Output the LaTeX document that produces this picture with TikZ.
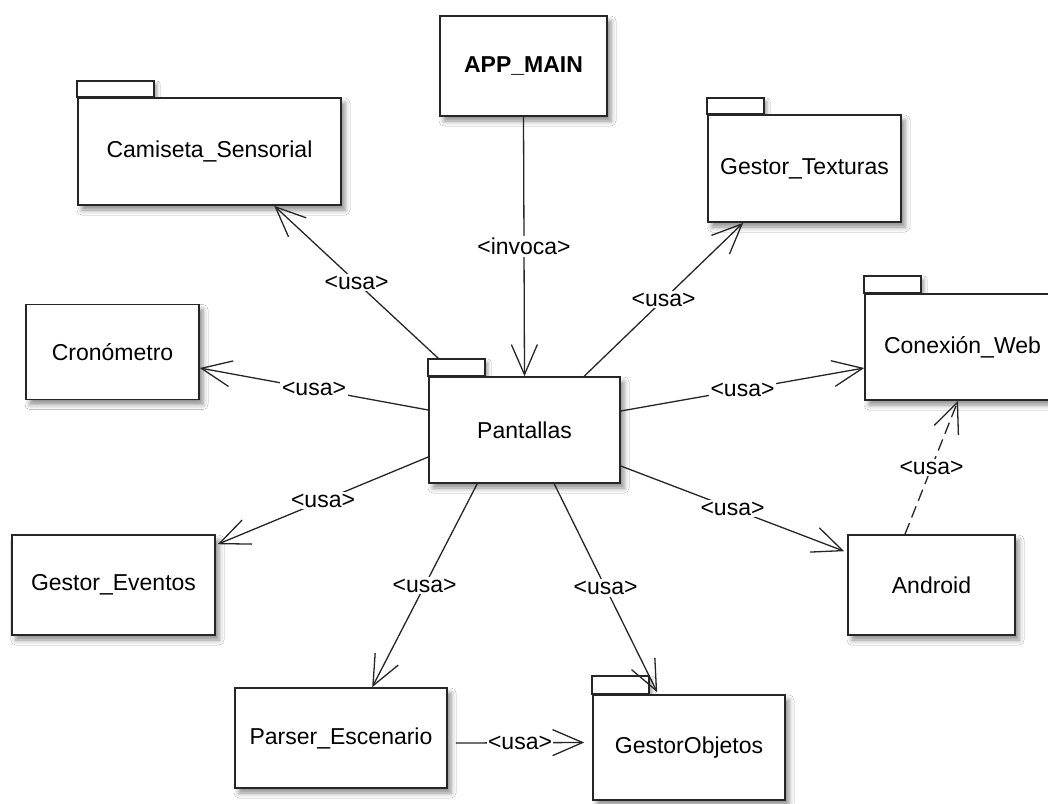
\documentclass[tikz,border=0pt]{standalone}
\usepackage{fontspec}
\setmainfont{Liberation Sans}
\usetikzlibrary{arrows.meta,shadows.blur}
\pgfdeclarelayer{background}
\pgfsetlayers{background,main}
\tikzset{
  box/.style={draw=black!85, line width=1.6pt, fill=white, inner sep=0pt,
    font=\fontsize{23}{27}\selectfont,
    blur shadow={shadow xshift=4pt, shadow yshift=-5pt, shadow blur radius=5pt, shadow opacity=45}},
  tabbox/.style={draw=black!85, line width=1.6pt, fill=white,
    blur shadow={shadow xshift=3pt, shadow yshift=-3pt, shadow blur radius=3pt, shadow opacity=35}},
  dep/.style={draw=black!85, line width=1.3pt, -{Straight Barb[length=30pt,width=26pt]}},
  lbl/.style={fill=white, inner sep=2pt, font=\fontsize{23}{27}\selectfont}
}
\begin{document}
\begin{tikzpicture}[x=1pt,y=-1pt]
\useasboundingbox (0,0) rectangle (1048,803);

% packages and components
\node[box, minimum width=263pt, minimum height=107pt] (cam) at (209.5,151.5) {Camiseta\_Sensorial};
\node[box, minimum width=167pt, minimum height=100pt, font=\fontsize{23}{27}\selectfont\bfseries] (app) at (523.5,66) {APP\_MAIN};
\node[box, minimum width=193pt, minimum height=107pt] (tex) at (804.5,168.5) {Gestor\_Texturas};
\node[box, minimum width=173pt, minimum height=95pt] (cro) at (112.5,352) {Cronómetro};
\node[box, minimum width=191pt, minimum height=106pt] (pant) at (524.5,430) {Pantallas};
\node[box, minimum width=195pt, minimum height=106pt] (web) at (962.5,347) {Conexión\_Web};
\node[box, minimum width=203pt, minimum height=100pt] (eve) at (113.5,585) {Gestor\_Eventos};
\node[box, minimum width=167pt, minimum height=100pt] (and) at (931.5,585) {Android};
\node[box, minimum width=212pt, minimum height=100pt] (par) at (341,738) {Parser\_Escenario};
\node[box, minimum width=192pt, minimum height=105pt] (obj) at (689,747.5) {GestorObjetos};

% white page and package tabs, behind the package bodies
\begin{pgfonlayer}{background}
\fill[white] (0,0) rectangle (1048,803);
\draw[tabbox] (cam.north west) rectangle ([xshift=77pt,yshift=16pt]cam.north west);
\draw[tabbox] (tex.north west) rectangle ([xshift=57pt,yshift=16pt]tex.north west);
\draw[tabbox] (pant.north west) rectangle ([xshift=57pt,yshift=17pt]pant.north west);
\draw[tabbox] (web.north west) rectangle ([xshift=57pt,yshift=17pt]web.north west);
\draw[tabbox] (obj.north west) rectangle ([xshift=57pt,yshift=18pt]obj.north west);
\end{pgfonlayer}

% dependencies
\draw[dep] (app.south) -- node[lbl]{<invoca>} (pant.north);
\draw[dep] ([xshift=11pt,yshift=17pt]pant.north west) -- node[lbl]{<usa>} ([xshift=197pt]cam.south west);
\draw[dep] ([yshift=20pt]pant.west) -- node[lbl]{<usa>} ([yshift=-16pt]cro.east);
\draw[dep] ([xshift=156pt]pant.north west) -- node[lbl]{<usa>} ([xshift=36pt]tex.south west);
\draw[dep] ([yshift=19pt]pant.east) -- node[lbl]{<usa>} ([yshift=-21pt]web.west);
\draw[dep] ([yshift=-27pt]pant.west) -- node[lbl]{<usa>} ([xshift=2pt,yshift=-10pt]eve.north east);
\draw[dep] ([xshift=49pt]pant.south west) -- node[lbl]{<usa>} ([xshift=138pt]par.north west);
\draw[dep] ([xshift=126pt]pant.south west) -- node[lbl]{<usa>} ([xshift=65pt,yshift=2pt]obj.north west);
\draw[dep] ([yshift=-36pt]pant.east) -- node[lbl]{<usa>} ([xshift=-3pt,yshift=-17pt]and.north west);
\draw[dep, dash pattern=on 12pt off 6pt] ([xshift=-26.5pt]and.north) -- node[lbl]{<usa>} ([xshift=-4.5pt]web.south);
\draw[dep] ([xshift=8pt,yshift=-5pt]par.east) -- node[lbl, inner xsep=1pt]{<usa>} ([xshift=-8pt,yshift=5pt]obj.west);
\end{tikzpicture}
\end{document}
